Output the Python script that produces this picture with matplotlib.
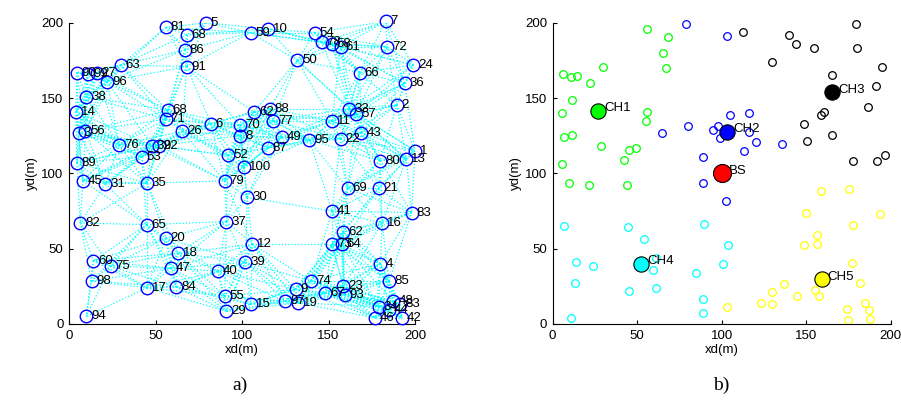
import numpy as np
import matplotlib
matplotlib.use('Agg')
import matplotlib.pyplot as plt

plt.rcParams['font.family'] = ['Liberation Sans', 'DejaVu Sans']

# ---- panel a) : deployed nodes with their labels
nodeX = [56, 79, 68, 67, 68, 30, 4.5, 11, 16, 22, 10, 4, 5.5, 9.5, 4.5,
         57, 56, 65.5, 82, 29, 48, 52, 42, 92, 101, 107, 116, 99, 99, 118,
         123, 115, 139, 157, 169, 152, 162, 166, 189.5, 194, 199, 168, 132, 142, 146,
         152, 157, 183, 184, 105, 115, 180, 195, 200, 8, 21, 45, 90, 103, 6.5,
         45, 56, 91, 106, 63, 14, 24, 59, 86, 102, 13, 45, 62, 90, 91,
         10, 105, 125, 132.5, 131, 140, 148, 159.5, 158.5, 185, 180, 187.5, 191.5, 179, 177,
         192.5, 185, 152, 161, 179, 198, 181, 158.5, 152, 157.6]
nodeY = [197, 200, 192, 182, 171, 172, 167, 166, 167, 161, 151, 141, 127, 128, 107,
         142, 136, 128, 133, 119, 118.5, 118.5, 111, 112, 104, 141, 143, 132, 125, 135,
         124, 117, 122, 123, 127, 135, 143, 139.5, 145.5, 160, 172, 167, 175, 193.5, 187,
         186, 184, 201, 184, 193.5, 196, 108.5, 109.5, 115, 95, 93, 93.5, 95, 84, 67,
         66, 57, 68, 53, 47, 42, 38.5, 37, 35, 41, 28.5, 24, 24.5, 18.5, 8.5,
         5, 13, 15, 14, 23, 28.5, 20.5, 19.5, 25, 28.5, 40, 15, 13, 11.5, 4,
         4, 9.5, 75, 90, 90, 74, 67, 61, 53, 53]
nodeLabels = ['81', '5', '68', '86', '91', '63', '90', '99', '27', '96', '38', '14', '3', '56', '89',
              '68', '71', '26', '6', '76', '32', '92', '53', '52', '100', '62', '88', '70', '8', '77',
              '49', '87', '95', '22', '43', '11', '33', '57', '2', '36', '24', '66', '50', '54', '78',
              '58', '61', '7', '72', '59', '10', '80', '13', '1', '45', '31', '35', '79', '30', '82',
              '65', '20', '37', '12', '18', '60', '75', '47', '40', '39', '98', '17', '84', '55', '29',
              '94', '15', '97', '19', '9', '74', '67', '93', '23', '85', '4', '48', '83', '34', '46',
              '42', '44', '41', '69', '21', '83', '16', '62', '73', '64']
commRange = 50

# ---- panel b) : clustered network
greenX = [55.6, 68.4, 65.4, 67, 29.9, 5.9, 10.7, 14.2, 22.1, 11.2, 5.3, 56, 55.2, 6.7, 11.4,
          28.6, 45.3, 49.1, 42.2, 5.3, 9.8, 21.7, 43.8]
greenY = [195.8, 190.3, 180.3, 170, 170.4, 166, 164.2, 164.9, 159.8, 148.8, 140, 140.6, 135.1, 124, 125.8,
          117.9, 115.7, 117, 109, 106, 93.8, 92, 92]
blueX = [78.7, 103.3, 64.5, 79.9, 89.1, 95, 99, 98, 105, 116.3, 116.3, 120.3, 113.2, 135.5, 88.8, 102.4]
blueY = [199.1, 191.4, 126.7, 131.8, 110.8, 128.5, 123.6, 131.8, 139, 140, 127.4, 120.7, 114.8, 119.7, 93.8, 81.6]
blackX = [112.8, 139.8, 144, 154.8, 179.5, 180.3, 129.6, 195, 165.4, 191.1, 186.4, 158.6, 160.9, 148.7,
          150.7, 165.4, 177.5, 191.7, 196.6]
blackY = [193.6, 192, 185.9, 183.6, 199.5, 183, 173.7, 170.4, 165.4, 158.3, 144.4, 139.1, 140.6, 132.9,
          121.4, 125.8, 108.1, 108.1, 111.9]
cyanX = [6.7, 44.7, 89.7, 54.2, 103.5, 13.8, 24, 61.1, 59.2, 100.8, 84.6, 13.2, 45.3, 61.1, 88.8, 89.1, 10.7]
cyanY = [65.1, 64.4, 66.7, 56.3, 52.3, 41.3, 38.6, 43.9, 35.8, 39.8, 33.6, 27, 22.1, 23.6, 16.6, 7.1, 3.8]
yellowX = [158.8, 175.5, 149.9, 193.7, 177.5, 156.2, 156.6, 148.7, 176.9, 182.2, 137, 129.6, 155.2, 157.6,
           144.4, 123.1, 129.6, 184.8, 187.2, 187.8, 174, 174.9, 103.3]
yellowY = [88.3, 89.4, 73.7, 72.8, 66, 59.4, 53.4, 52.3, 40.2, 27, 26.5, 21.4, 22.5, 18.5,
           18.5, 14.1, 13.2, 13.7, 9.3, 3.3, 9.9, 2.6, 11.5]
chNames = ['CH1', 'CH2', 'CH3', 'CH4', 'CH5']
chX = [27, 103.4, 165.4, 52.1, 159.2]
chY = [141.7, 127.4, 153.8, 39.7, 29.6]
chColors = ['#00ff00', '#0000ff', 'k', '#00ffff', '#ffff00']
bsX, bsY = 100, 100

fig = plt.figure(figsize=(9.01, 4.08), dpi=100)
axA = fig.add_axes([0.0766, 0.206, 0.384, 0.738])
axB = fig.add_axes([0.6134, 0.206, 0.375, 0.738])

# links between nodes in range
nx = np.array(nodeX)
ny = np.array(nodeY)
for i in range(len(nx)):
    for j in range(i+1, len(nx)):
        if np.hypot(nx[i]-nx[j], ny[i]-ny[j]) < commRange:
            axA.plot([nx[i], nx[j]], [ny[i], ny[j]], color='#00ffff', lw=0.9, ls=(0, (1.0, 1.6)), zorder=1)

axA.plot(nx, ny, 'o', ms=9, mfc='none', mec='#0000ff', mew=1.0, clip_on=False, zorder=3)
for i in range(len(nx)):
    axA.annotate(nodeLabels[i], (nx[i], ny[i]), xytext=(3.5, 0), textcoords='offset points',
                 va='center', ha='left', fontsize=9.5, color='k', zorder=4, annotation_clip=False)

# clustered view
hollow = dict(ms=5.5, mfc='none', mew=0.9, clip_on=False, ls='none')
axB.plot(greenX, greenY, 'o', mec='#00ff00', **hollow)
axB.plot(blueX, blueY, 'o', mec='#0000ff', **hollow)
axB.plot(blackX, blackY, 'o', mec='k', **hollow)
axB.plot(cyanX, cyanY, 'o', mec='#00ffff', **hollow)
axB.plot(yellowX, yellowY, 'o', mec='#ffff00', **hollow)
for i in range(len(chNames)):
    axB.plot(chX[i], chY[i], 'o', ms=11, mfc=chColors[i], mec='k', mew=0.8, zorder=4)
    axB.annotate(chNames[i], (chX[i], chY[i]), xytext=(4.5, 2), textcoords='offset points',
                 va='center', ha='left', fontsize=9.5, zorder=5)
axB.plot(bsX, bsY, 'o', ms=13, mfc='#ff0000', mec='k', mew=0.8, zorder=4)
axB.annotate('BS', (bsX, bsY), xytext=(5, 2), textcoords='offset points', va='center', ha='left', fontsize=9.5)

for ax in [axA, axB]:
    ax.set_xlim(0, 200)
    ax.set_ylim(0, 200)
    ax.set_xticks([0, 50, 100, 150, 200])
    ax.set_yticks([0, 50, 100, 150, 200])
    ax.spines['top'].set_visible(False)
    ax.spines['right'].set_visible(False)
    ax.spines['left'].set_linewidth(0.8)
    ax.spines['bottom'].set_linewidth(0.8)
    ax.tick_params(direction='in', length=3, labelsize=9.5, width=0.8, pad=4)
    ax.set_xlabel('xd(m)', fontsize=9.5, labelpad=2)
    ax.set_ylabel('yd(m)', fontsize=9.5, labelpad=2)

fig.text(0.266, 0.055, 'a)', fontsize=14, family='Liberation Serif', ha='center', va='center')
fig.text(0.801, 0.055, 'b)', fontsize=14, family='Liberation Serif', ha='center', va='center')

fig.savefig('out.png', dpi=100)
